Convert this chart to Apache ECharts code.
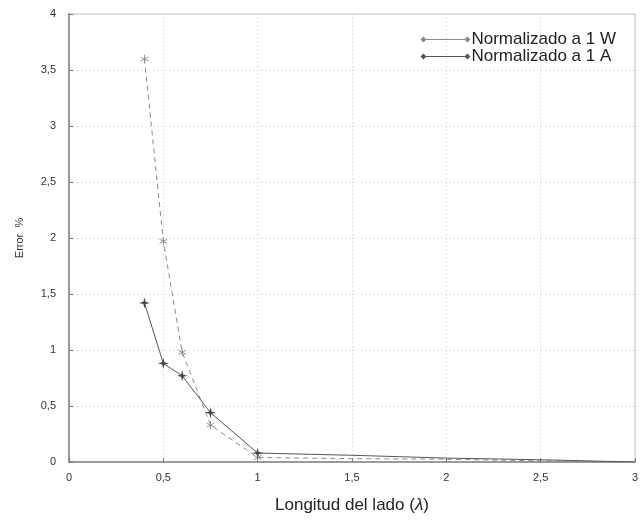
<!DOCTYPE html>
<html>
<head>
<meta charset="utf-8">
<script src="https://cdn.jsdelivr.net/npm/echarts@6/dist/echarts.min.js"></script>
<style>
  html, body { margin: 0; padding: 0; background: #fff; }
  #chart { width: 641px; height: 520px; }
</style>
</head>
<body>
<div id="chart"></div>
<script>
// longitud del lado (lambda)
const lados = [0.4, 0.5, 0.6, 0.75, 1, 1.5, 2, 2.5, 3];
const errorW = [3.6, 1.97, 0.98, 0.33, 0.04, 0.03, 0.025, 0.01, 0];
const errorA = [1.42, 0.88, 0.77, 0.44, 0.08, 0.06, 0.035, 0.02, 0];

// only the points up to lambda = 1 carry a marker in the original
const pair = (xs, ys) => xs.map((x, i) => ({ value: [x, ys[i]], symbolSize: x > 1 ? 0 : undefined }));
const fmt = v => String(v).replace('.', ',');

const starA = 'path://M5,0L6,4L10,5L6,6L5,10L4,6L0,5L4,4Z';
const starW = 'path://M4.5,0H5.5V4.2L9,2L9.5,2.9L6,5L9.5,7.1L9,8L5.5,5.8V10H4.5V5.8L1,8L0.5,7.1L4,5L0.5,2.9L1,2L4.5,4.2Z';
const legIcon = 'path://M0,4L3,1L6,4L3,7Z M44,4L47,1L50,4L47,7Z M3,3.5H47V4.5H3Z';

const chart = echarts.init(document.getElementById('chart'));

chart.setOption({
  animation: false,
  backgroundColor: '#fff',
  grid: {
    left: 69,
    right: 1,
    top: 14,
    bottom: 58,
    show: true,
    borderColor: '#c4c4c4',
    borderWidth: 1
  },
  legend: {
    right: 20,
    top: 26,
    orient: 'vertical',
    itemGap: 0,
    itemWidth: 50,
    itemHeight: 8,
    textStyle: { fontFamily: 'Liberation Sans', fontSize: 17, lineHeight: 16, color: '#222', padding: [0, 0, 0, -4] },
    data: [
      { name: 'Normalizado a 1 W', icon: legIcon, itemStyle: { color: '#8a8a8a' } },
      { name: 'Normalizado a 1 A', icon: legIcon, itemStyle: { color: '#555' } }
    ]
  },
  xAxis: {
    type: 'value',
    min: 0,
    max: 3,
    interval: 0.5,
    name: 'Longitud del lado ({i|λ})',
    nameLocation: 'middle',
    nameGap: 35,
    nameTextStyle: {
      fontFamily: 'Liberation Sans',
      fontSize: 17,
      color: '#222',
      rich: { i: { fontStyle: 'italic', fontFamily: 'Liberation Sans', fontSize: 17, color: '#222' } }
    },
    axisLine: { lineStyle: { color: '#9a9a9a', width: 2 } },
    axisTick: { inside: true, length: 4, lineStyle: { color: '#777' } },
    axisLabel: { formatter: fmt, fontFamily: 'Liberation Sans', fontSize: 11, color: '#333', margin: 10 },
    splitLine: { show: true, lineStyle: { color: '#c8c8c8', type: [1, 3] } }
  },
  yAxis: {
    type: 'value',
    min: 0,
    max: 4,
    interval: 0.5,
    name: 'Error  %',
    nameLocation: 'middle',
    nameGap: 44,
    nameTextStyle: { fontFamily: 'Liberation Sans', fontSize: 11, color: '#333' },
    axisLine: { show: true, lineStyle: { color: '#9a9a9a', width: 2 } },
    axisTick: { inside: true, length: 4, lineStyle: { color: '#777' } },
    axisLabel: { formatter: fmt, fontFamily: 'Liberation Sans', fontSize: 11, color: '#333', margin: 13 },
    splitLine: { show: true, lineStyle: { color: '#c8c8c8', type: [1, 3] } }
  },
  series: [
    {
      name: 'Normalizado a 1 W',
      type: 'line',
      data: pair(lados, errorW),
      symbol: starW,
      symbolSize: 8,
      lineStyle: { color: '#8a8a8a', width: 1, type: [5, 4] },
      itemStyle: { color: '#8a8a8a' }
    },
    {
      name: 'Normalizado a 1 A',
      type: 'line',
      data: pair(lados, errorA),
      symbol: starA,
      symbolSize: 11,
      lineStyle: { color: '#555', width: 1 },
      itemStyle: { color: '#444' }
    }
  ]
});
</script>
</body>
</html>
